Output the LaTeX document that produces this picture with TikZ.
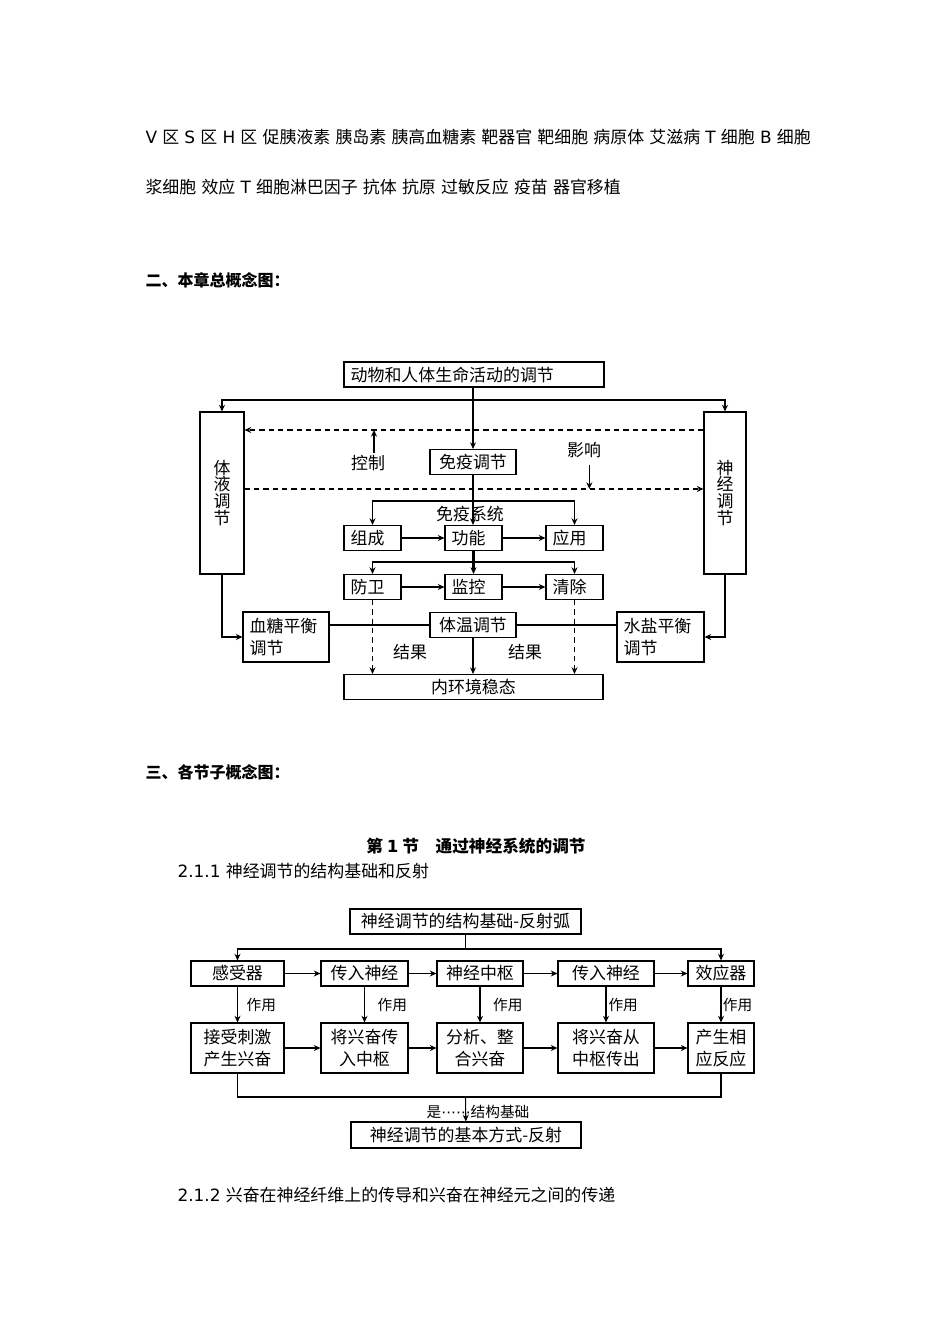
\documentclass[tikz,border=0pt]{standalone}
\usepackage{fontspec}
\setmainfont{Noto Sans CJK SC}
\newfontfamily\dv{DejaVu Sans}
\usetikzlibrary{arrows.meta,positioning}

\tikzset{
  box/.style={draw,inner xsep=5pt,inner ysep=0pt,minimum height=18.75pt,font=\fontsize{12.7}{16}\selectfont},
  arr/.style={-{Stealth[length=5pt,width=4.5pt]}},
  darr/.style={arr,dash pattern=on 4pt off 3pt},
  lbl/.style={inner sep=0pt,font={\fontsize{12.7}{15}\selectfont\spaceskip 3.9pt\relax}},
  hd/.style={inner sep=0pt,font=\fontsize{12}{14}\selectfont\bfseries},
  zy/.style={inner sep=0pt,font=\fontsize{11}{12}\selectfont}
}

\begin{document}
\begin{tikzpicture}[x=0.75pt,y=-0.75pt,line width=.8pt]
\useasboundingbox (0,0) rectangle (950,1344);

% word list and headings
\node[lbl,anchor=west] (w1) at (145,137) {{\dv V} 区 {\dv S} 区 {\dv H} 区 促胰液素 胰岛素 胰高血糖素 靶器官 靶细胞 病原体 艾滋病 {\dv T} 细胞 {\dv B} 细胞};
\node[lbl,anchor=west] (w2) at (145,187) {浆细胞 效应 {\dv T} 细胞淋巴因子 抗体 抗原 过敏反应 疫苗 器官移植};
\node[hd,anchor=west] (h2) at (145,280) {二、本章总概念图：};

% overall map
\node[box,text width=185pt,align=left] (top) at (474,374.5) {动物和人体生命活动的调节};
\node[box,minimum width=33pt,minimum height=121.5pt,align=center,font=\fontsize{12.7}{12.7}\selectfont] (ti) at (222,493) {体\\液\\调\\节};
\node[box,minimum width=31.5pt,minimum height=121.5pt,align=center,font=\fontsize{12.7}{12.7}\selectfont] (sj) at (725,493) {神\\经\\调\\节};
\node[box,text width=54.5pt,align=center] (my) at (473,462) {免疫调节};
\node[lbl] (kz) at (368,463) {控制};
\node[lbl] (yx) at (584,450) {影响};
\coordinate (fk) at (473,400);
\coordinate (d1) at (0,430);
\coordinate (d2) at (0,489);
\coordinate (fk2) at (473,501);
\node[lbl] (myxt) at (470,514) {免疫系统};
\node[box,text width=32.75pt,align=left] (zc) at (372.5,538) {组成};
\node[box,text width=32.75pt,align=left] (gn) at (473.5,538) {功能};
\node[box,text width=32.75pt,align=left] (yy) at (574.5,538) {应用};
\coordinate (fk3) at (473,562);
\node[box,text width=32.75pt,align=left] (fw) at (372.5,587) {防卫};
\node[box,text width=32.75pt,align=left] (jk) at (473.5,587) {监控};
\node[box,text width=32.75pt,align=left] (qc) at (574.5,587) {清除};
\node[box,text width=54.5pt,align=left,minimum height=37.5pt] (xt) at (286,637) {血糖平衡\\调节};
\node[box,text width=54.5pt,align=center] (tw) at (473,625) {体温调节};
\node[box,text width=55.25pt,align=left,minimum height=37.5pt] (sy) at (660.5,637) {水盐平衡\\调节};
\node[box,text width=184.25pt,align=center] (nh) at (473.5,687) {内环境稳态};
\node[lbl] (jg1) at (410,652) {结果};
\node[lbl] (jg2) at (525,652) {结果};

\draw[line width=1.6pt] (top.south -| my.north) -- (fk);
\draw[arr] (fk) -- (my.north);
\draw[arr] (fk) -| (ti);
\draw[arr] (fk) -| (sj);
\draw[darr] (sj.west |- d1) -- (ti.east |- d1);
\draw[darr] (ti.east |- d2) -- (sj.west |- d2);
\draw[arr] ([xshift=4.5pt,yshift=1pt]kz.north) -- ([xshift=4.5pt]kz.north |- d1);
\draw[arr] ([xshift=4pt,yshift=-5pt]yx.south) -- ([xshift=4pt]yx.south |- d2);
\draw[arr,line width=1.6pt] (my.south) -- (my.south |- gn.north);
\draw[arr] (fk2) -| (zc);
\draw[arr] (fk2) -| (yy);
\draw[arr] (zc) -- (gn);
\draw[arr] (gn) -- (yy);
\draw[arr,line width=1.6pt] (gn.south) -- (gn.south |- jk.north);
\draw[arr] (fk3) -| (fw);
\draw[arr] (fk3) -| (qc);
\draw[arr] (fw) -- (jk);
\draw[arr] (jk) -- (qc);
\draw[darr] (fw.south) -- (fw.south |- nh.north);
\draw[darr] (qc.south) -- (qc.south |- nh.north);
\draw[arr] (tw.south) -- (tw.south |- nh.north);
\draw (tw.west) -- (tw.west -| xt.east);
\draw (tw.east) -- (tw.east -| sy.west);
\draw[arr] (ti.south) |- (xt.west);
\draw[arr] (sj.south) |- (sy.east);

\node[hd,anchor=west] (h3) at (145,772) {三、各节子概念图：};
\node[hd,font=\fontsize{12.5}{14}\selectfont\bfseries] (h31) at (476,846) {第 {\dv 1} 节　通过神经系统的调节};
\node[lbl,anchor=west] (h311) at (177,871) {{\dv 2.1.1} 神经调节的结构基础和反射};

% reflex arc
\node[box,text width=163.25pt,align=center] (rt) at (465.5,921.5) {神经调节的结构基础-反射弧};
\coordinate (fk4) at (465.5,949);
\node[box,text width=59.75pt,align=center] (r1) at (237.5,973.5) {感受器};
\node[box,text width=55.25pt,align=center] (r2) at (364.5,973.5) {传入神经};
\node[box,text width=54.5pt,align=center] (r3) at (480,973.5) {神经中枢};
\node[box,text width=62pt,align=center] (r4) at (606,973.5) {传入神经};
\node[box,text width=39.5pt,align=center] (r5) at (721,973.5) {效应器};
\node[box,text width=59.75pt,align=center,minimum height=37.5pt] (s1) at (237.5,1048) {接受刺激\\产生兴奋};
\node[box,text width=55.25pt,align=center,minimum height=37.5pt] (s2) at (364.5,1048) {将兴奋传\\入中枢};
\node[box,text width=54.5pt,align=center,minimum height=37.5pt] (s3) at (480,1048) {分析、整\\合兴奋};
\node[box,text width=62pt,align=center,minimum height=37.5pt] (s4) at (606,1048) {将兴奋从\\中枢传出};
\node[box,text width=39.5pt,align=center,minimum height=37.5pt] (s5) at (721,1048) {产生相\\应反应};

\draw (rt) -- (fk4);
\draw[arr] (fk4) -| (r1);
\draw[arr] (fk4) -| (r5);
\foreach \a/\b in {r1/r2,r2/r3,r3/r4,r4/r5,s1/s2,s2/s3,s3/s4,s4/s5}
  \draw[arr] (\a) -- (\b);
\foreach \i/\d in {1/6.5,2/9.5,3/9.5,4/1.5,5/1}
  \draw[arr] (r\i) -- (s\i) node[midway,right=\d pt,zy] (zy\i) {作用};

\coordinate (fk5) at (465.5,1097);
\node[box,text width=162.5pt,align=center,minimum height=19.5pt] (rb) at (466,1135) {神经调节的基本方式-反射};
\draw (s1) |- (fk5) -| (s5);
\draw[arr] (fk5) -- (rb);
\node[zy] (sjc) at (478,1112) {是{\dv ⋯⋯}结构基础};

\node[lbl,anchor=west] (h312) at (177,1195) {{\dv 2.1.2} 兴奋在神经纤维上的传导和兴奋在神经元之间的传递};
\end{tikzpicture}
\end{document}
